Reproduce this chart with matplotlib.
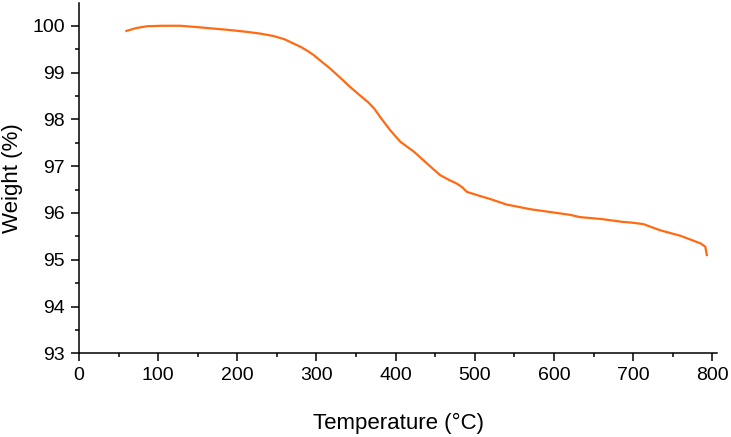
import numpy as np
import matplotlib.pyplot as plt
from matplotlib.ticker import MultipleLocator

plt.rcParams['font.family'] = ['Liberation Sans', 'DejaVu Sans']

# TGA curve
temperature = [60, 72, 86, 105, 128, 150, 170, 190, 212, 230, 246, 260, 271,
               280, 288, 296, 306, 317, 330, 342, 355, 365, 373, 380, 393,
               406, 423, 444, 456, 468, 477, 484, 490, 505, 519, 540, 570,
               595, 620, 633, 660, 686, 700, 713, 734, 760, 785, 791, 793]
weight = [99.89, 99.95, 99.99, 100.0, 100.0, 99.97, 99.94, 99.91, 99.87,
          99.83, 99.78, 99.71, 99.62, 99.55, 99.47, 99.38, 99.24, 99.09,
          98.89, 98.70, 98.51, 98.37, 98.23, 98.06, 97.77, 97.52, 97.31,
          96.99, 96.81, 96.70, 96.63, 96.55, 96.45, 96.37, 96.30, 96.18,
          96.08, 96.02, 95.96, 95.91, 95.87, 95.81, 95.79, 95.76, 95.63,
          95.51, 95.35, 95.28, 95.10]

fig = plt.figure(figsize=(7.31, 4.37), dpi=100)
ax = fig.add_axes([0.108, 0.1915, 0.873, 0.802])

ax.plot(temperature, weight, color='#ff6a13', lw=1.6)

ax.set_xlim(0, 806)
ax.set_ylim(93, 100.49)
ax.xaxis.set_major_locator(MultipleLocator(100))
ax.xaxis.set_minor_locator(MultipleLocator(50))
ax.yaxis.set_major_locator(MultipleLocator(1))
ax.yaxis.set_minor_locator(MultipleLocator(0.5))

for s in ['top', 'right']:
    ax.spines[s].set_visible(False)
for s in ['left', 'bottom']:
    ax.spines[s].set_linewidth(1.1)
ax.tick_params(which='major', direction='out', length=6, width=1.1,
               labelsize=14, pad=4)
ax.tick_params(which='minor', direction='out', length=3, width=1.1)

ax.set_xlabel('Temperature (°C)', fontsize=16, labelpad=21)
ax.set_ylabel('Weight (%)', fontsize=16, labelpad=7)

fig.savefig('out.png', dpi=100)
